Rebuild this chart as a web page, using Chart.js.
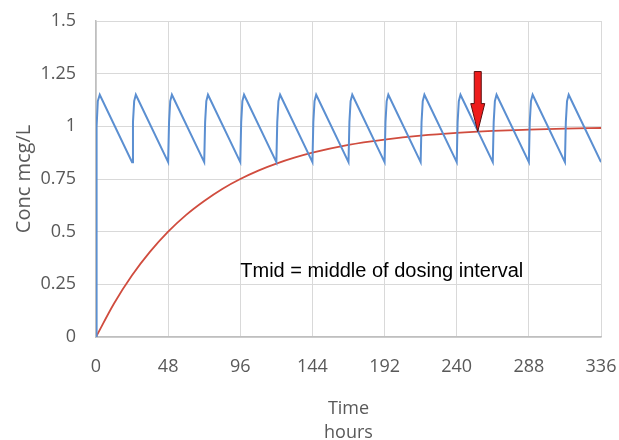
<!DOCTYPE html>
<html>
<head>
<meta charset="utf-8">
<script src="https://cdn.jsdelivr.net/npm/chart.js@4"></script>
<style>
  html, body { margin: 0; padding: 0; background: #fff; }
  #wrap { width: 619px; height: 440px; }
</style>
</head>
<body>
<div id="wrap"><canvas id="concChart" width="619" height="440"></canvas></div>
<script>
// --- Data ---
const xTicks = [0, 48, 96, 144, 192, 240, 288, 336];
const yTicks = [0, 0.25, 0.5, 0.75, 1, 1.25, 1.5];

// blue: repeated dosing every 24 h (trough, rise, peak ...)
const blueTime = [0, 0.4, 1.2, 2.5,
  24, 24.6, 25.4, 26.5, 48, 48.6, 49.4, 50.5, 72, 72.6, 73.4, 74.5, 96, 96.6, 97.4, 98.5,
  120, 120.6, 121.4, 122.5, 144, 144.6, 145.4, 146.5, 168, 168.6, 169.4, 170.5,
  192, 192.6, 193.4, 194.5, 216, 216.6, 217.4, 218.5, 240, 240.6, 241.4, 242.5,
  264, 264.6, 265.4, 266.5, 288, 288.6, 289.4, 290.5, 312, 312.6, 313.4, 314.5, 336];
const blueConc = [0, 1.0, 1.12, 1.15,
  0.83, 1.02, 1.12, 1.15, 0.83, 1.02, 1.12, 1.15, 0.83, 1.02, 1.12, 1.15, 0.83, 1.02, 1.12, 1.15,
  0.83, 1.02, 1.12, 1.15, 0.83, 1.02, 1.12, 1.15, 0.83, 1.02, 1.12, 1.15,
  0.83, 1.02, 1.12, 1.15, 0.83, 1.02, 1.12, 1.15, 0.83, 1.02, 1.12, 1.15,
  0.83, 1.02, 1.12, 1.15, 0.83, 1.02, 1.12, 1.15, 0.83, 1.02, 1.12, 1.15, 0.83];

// red: accumulation curve
const redTime = [0, 12, 24, 36, 48, 60, 72, 84, 96, 108, 120, 132, 144, 168, 192, 216, 240, 264, 288, 312, 336];
const redConc = [0, 0.159, 0.293, 0.405, 0.5, 0.58, 0.646, 0.703, 0.75, 0.79, 0.823, 0.851, 0.875, 0.912, 0.937, 0.956, 0.969, 0.978, 0.984, 0.989, 0.992];

// arrow and note
const arrowTime = 254;
const arrowFrom = 1.26;
const arrowTo = 0.975;
const noteText = 'Tmid = middle of dosing interval';
const noteTime = 96;
const noteConc = 0.31;

const toPoints = (xs, ys) => xs.map((x, i) => ({ x: x, y: ys[i] }));

const tickFont = { family: "'Open Sans', sans-serif", size: 18 };
const tickColor = '#595959';
const gridColor = '#d9d9d9';

// --- Arrow + text annotation ---
const annotations = {
  id: 'annotations',
  afterDatasetsDraw(chart) {
    const { ctx, scales } = chart;
    const x = scales.x.getPixelForValue(arrowTime);
    const yTop = scales.y.getPixelForValue(arrowFrom);
    const yTip = scales.y.getPixelForValue(arrowTo);
    const shaft = 3.5, head = 7, headLen = 28;
    ctx.save();
    ctx.beginPath();
    ctx.moveTo(x - shaft, yTop);
    ctx.lineTo(x + shaft, yTop);
    ctx.lineTo(x + shaft, yTip - headLen);
    ctx.lineTo(x + head, yTip - headLen);
    ctx.lineTo(x, yTip);
    ctx.lineTo(x - head, yTip - headLen);
    ctx.lineTo(x - shaft, yTip - headLen);
    ctx.closePath();
    ctx.fillStyle = '#ee1c1c';
    ctx.fill();
    ctx.lineWidth = 1;
    ctx.strokeStyle = '#5a1010';
    ctx.stroke();

    ctx.font = "20px 'Liberation Sans', Arial, sans-serif";
    ctx.fillStyle = '#000';
    ctx.textAlign = 'left';
    ctx.textBaseline = 'middle';
    ctx.fillText(noteText, scales.x.getPixelForValue(noteTime), scales.y.getPixelForValue(noteConc));
    ctx.restore();
  }
};

new Chart(document.getElementById('concChart'), {
  type: 'line',
  data: {
    datasets: [
      {
        label: 'Repeated dosing',
        data: toPoints(blueTime, blueConc),
        borderColor: '#5b8fd1',
        borderWidth: 2,
        pointRadius: 0,
        tension: 0,
        fill: false
      },
      {
        label: 'Accumulation',
        data: toPoints(redTime, redConc),
        borderColor: '#d04c3e',
        borderWidth: 1.8,
        pointRadius: 0,
        cubicInterpolationMode: 'monotone',
        fill: false
      }
    ]
  },
  plugins: [annotations],
  options: {
    responsive: false,
    animation: false,
    layout: { padding: { left: 4, right: 18, top: 21, bottom: 0 } },
    plugins: { legend: { display: false }, tooltip: { enabled: false } },
    scales: {
      x: {
        type: 'linear',
        min: 0,
        max: 336,
        afterBuildTicks: (axis) => { axis.ticks = xTicks.map(v => ({ value: v })); },
        afterFit: (axis) => { axis.paddingRight = 0; axis.height = 103; },
        ticks: { font: tickFont, color: tickColor, maxRotation: 0, padding: 19, callback: (v) => String(v) },
        grid: { color: gridColor, drawTicks: false, lineWidth: 1 },
        border: { color: '#bfbfbf', width: 1.5 },
        title: {
          display: true,
          text: ['Time', 'hours'],
          font: { family: "'Open Sans', sans-serif", size: 18, lineHeight: 1.35 },
          color: tickColor,
          padding: { top: 9, bottom: -5 }
        }
      },
      y: {
        min: 0,
        max: 1.5,
        afterBuildTicks: (axis) => { axis.ticks = yTicks.map(v => ({ value: v })); },
        afterFit: (axis) => { axis.width = 92; axis.paddingTop = 0; axis.paddingBottom = 0; },
        ticks: { font: tickFont, color: tickColor, padding: 20, callback: (v) => String(v) },
        grid: { color: gridColor, drawTicks: false, lineWidth: 1 },
        border: { color: '#bfbfbf', width: 1.5 },
        title: {
          display: true,
          text: 'Conc mcg/L',
          font: { family: "'Open Sans', sans-serif", size: 20 },
          color: tickColor,
          padding: { top: 8, bottom: 0 }
        }
      }
    }
  }
});
</script>
</body>
</html>
